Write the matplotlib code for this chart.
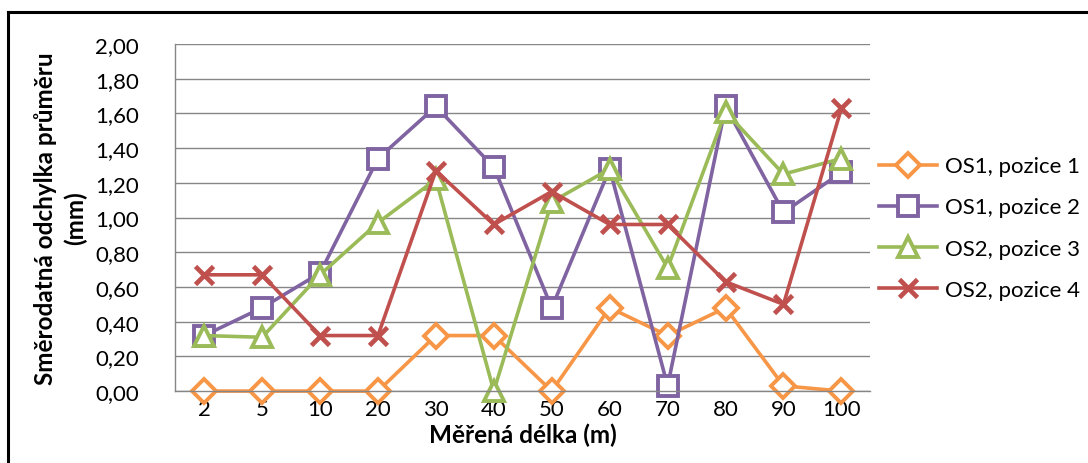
import matplotlib.pyplot as plt
from matplotlib.lines import Line2D

plt.rcParams['font.family'] = ['Lato', 'DejaVu Sans']

categories = ['2', '5', '10', '20', '30', '40', '50', '60', '70', '80', '90', '100']
os1_poz1 = [0.00, 0.00, 0.00, 0.00, 0.32, 0.32, 0.00, 0.48, 0.32, 0.48, 0.03, 0.00]
os1_poz2 = [0.32, 0.48, 0.68, 1.34, 1.64, 1.29, 0.48, 1.28, 0.03, 1.64, 1.03, 1.26]
os2_poz3 = [0.32, 0.31, 0.67, 0.97, 1.22, 0.00, 1.09, 1.28, 0.71, 1.61, 1.25, 1.34]
os2_poz4 = [0.67, 0.67, 0.32, 0.32, 1.27, 0.96, 1.15, 0.96, 0.96, 0.63, 0.50, 1.63]

series = [
    ("OS1, pozice 1", os1_poz1, "#F79646", "D", 12),
    ("OS1, pozice 2", os1_poz2, "#8064A2", "s", 14),
    ("OS2, pozice 3", os2_poz3, "#9BBB59", "^", 14),
    ("OS2, pozice 4", os2_poz4, "#C0504D", "x", 13),
]

fig = plt.figure(figsize=(10.88, 4.64), dpi=100)
ax = fig.add_axes([0.161, 0.155, 0.639, 0.748])

x = range(len(categories))
for label, vals, color, marker, ms in series:
    ax.plot(x, vals, color=color, linewidth=2.6, marker=marker,
            markersize=ms, markerfacecolor="white", markeredgecolor=color,
            markeredgewidth=2.8 if marker != "x" else 3.4, label=label,
            clip_on=False)

ax.set_xlim(-0.5, len(categories) - 0.5)
ax.set_ylim(0, 2.0)
ax.set_yticks([i * 0.2 for i in range(11)])
ax.set_yticklabels([f"{i * 0.2:.2f}".replace(".", ",") for i in range(11)])
ax.set_xticks(list(x))
ax.set_xticklabels(categories)
ax.tick_params(axis="both", labelsize=16, length=0, colors="black")
ax.tick_params(axis="y", pad=26)
ax.tick_params(axis="x", pad=6)
ax.grid(axis="y", color="#868686", linewidth=1)
ax.set_axisbelow(True)
for side in ["top", "right"]:
    ax.spines[side].set_visible(False)
for side in ["left", "bottom"]:
    ax.spines[side].set_color("#868686")
    ax.spines[side].set_linewidth(1)

ax.set_xlabel("Měřená délka (m)", fontsize=17.5, fontweight="bold", labelpad=2)
ax.set_ylabel("Směrodatná odchylka průměru\n(mm)", fontsize=17.5,
              fontweight="bold", labelpad=6, linespacing=1.3)

ax.legend(loc="center left", bbox_to_anchor=(1.0, 0.47), frameon=False,
          fontsize=16, handlelength=2.6, labelspacing=0.95, handletextpad=0.35,
          borderaxespad=0.0)

# outer chart border
fig.add_artist(Line2D([8 / 1088, 1.0], [1 - 13 / 464, 1 - 13 / 464],
                      color="black", linewidth=2.2))
fig.add_artist(Line2D([8 / 1088, 8 / 1088], [0, 1 - 13 / 464],
                      color="black", linewidth=2.2))

fig.savefig("out.png", dpi=100)
